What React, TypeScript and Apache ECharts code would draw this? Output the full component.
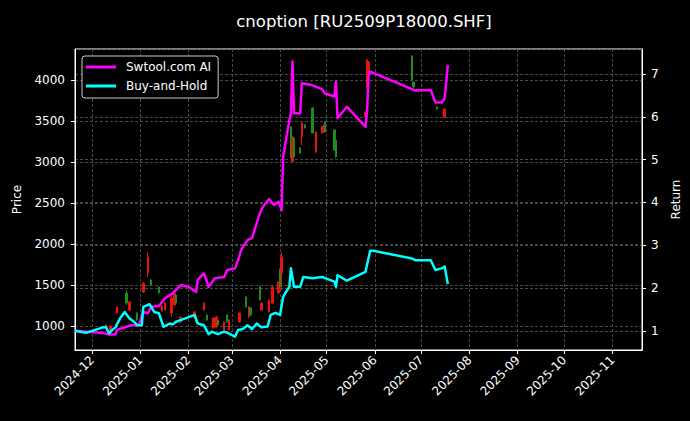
import React, { useEffect, useRef } from 'react';
import * as echarts from 'echarts';

const titleText = 'cnoption [RU2509P18000.SHF]';
const aiName = 'Swtool.com AI';
const bhName = 'Buy-and-Hold';

const aiDates = ['2024-11-20','2024-12-08','2024-12-12','2024-12-16','2024-12-17','2024-12-26','2024-12-31','2025-01-03','2025-01-06','2025-01-08','2025-01-13','2025-01-17','2025-01-22','2025-01-27','2025-02-01','2025-02-06','2025-02-07','2025-02-11','2025-02-14','2025-02-18','2025-02-24','2025-02-26','2025-03-03','2025-03-05','2025-03-07','2025-03-11','2025-03-14','2025-03-19','2025-03-21','2025-03-25','2025-03-28','2025-03-31','2025-04-02','2025-04-03','2025-04-07','2025-04-08','2025-04-09','2025-04-10','2025-04-14','2025-04-15','2025-04-21','2025-04-28','2025-04-30','2025-05-06','2025-05-07','2025-05-08','2025-05-14','2025-05-26','2025-05-27','2025-05-28','2025-05-29','2025-06-25','2025-06-27','2025-07-07','2025-07-10','2025-07-14','2025-07-16','2025-07-18'];
const aiValues = [1.00,0.95,0.91,0.91,1.02,1.13,1.13,1.44,1.41,1.56,1.58,1.76,1.88,2.07,2.03,1.91,2.19,2.34,2.03,2.23,2.26,2.42,2.46,2.65,2.89,3.12,3.17,3.75,3.90,4.08,3.94,4.02,3.82,5.07,5.93,6.09,7.30,6.09,6.09,6.79,6.75,6.65,6.55,6.48,6.83,5.97,6.24,5.77,6.13,6.98,7.06,6.65,6.62,6.63,6.34,6.34,6.44,7.22];

const bhDates = ['2024-11-20','2024-11-27','2024-12-08','2024-12-10','2024-12-12','2024-12-14','2024-12-16','2024-12-19','2024-12-22','2024-12-25','2024-12-28','2024-12-30','2025-01-02','2025-01-03','2025-01-07','2025-01-10','2025-01-13','2025-01-16','2025-01-20','2025-01-22','2025-01-24','2025-01-27','2025-02-05','2025-02-07','2025-02-11','2025-02-14','2025-02-16','2025-02-20','2025-02-24','2025-02-27','2025-03-03','2025-03-05','2025-03-08','2025-03-11','2025-03-14','2025-03-17','2025-03-20','2025-03-24','2025-03-26','2025-03-29','2025-04-01','2025-04-03','2025-04-07','2025-04-08','2025-04-10','2025-04-14','2025-04-16','2025-04-22','2025-04-28','2025-04-30','2025-05-06','2025-05-07','2025-05-08','2025-05-14','2025-05-26','2025-05-29','2025-05-31','2025-06-25','2025-06-27','2025-07-07','2025-07-10','2025-07-14','2025-07-16','2025-07-18'];
const bhValues = [1.00,0.95,1.08,1.08,0.94,1.02,1.08,1.29,1.44,1.29,1.21,1.13,1.13,1.56,1.62,1.44,1.41,1.09,1.17,1.15,1.21,1.25,1.37,1.17,1.13,0.92,0.98,0.92,0.98,0.94,0.86,1.02,1.04,1.13,1.04,1.17,1.08,1.10,1.37,1.42,1.37,1.80,2.03,2.46,2.03,2.03,2.26,2.23,2.26,2.23,2.15,2.03,2.30,2.17,2.38,2.87,2.87,2.69,2.65,2.65,2.42,2.46,2.50,2.09];

const candleDates = ['2024-12-10','2024-12-13','2024-12-17','2024-12-23','2024-12-25','2024-12-30','2025-01-03','2025-01-06','2025-01-08','2025-01-13','2025-01-15','2025-01-17','2025-01-21','2025-01-23','2025-01-24','2025-01-27','2025-02-05','2025-02-06','2025-02-11','2025-02-13','2025-02-17','2025-02-19','2025-02-20','2025-02-24','2025-02-26','2025-02-27','2025-03-06','2025-03-10','2025-03-12','2025-03-13','2025-03-19','2025-03-20','2025-03-25','2025-03-27','2025-03-31','2025-04-01','2025-04-02','2025-04-08','2025-04-09','2025-04-10','2025-04-14','2025-04-15','2025-04-17','2025-04-22','2025-04-24','2025-04-28','2025-04-29','2025-04-30','2025-05-06','2025-05-07','2025-05-26','2025-05-27','2025-05-28','2025-06-25','2025-06-26','2025-07-11','2025-07-16'];
const candleOpen = [976,951,1159,1402,1195,1159,1415,1646,1561,1476,1183,1195,1159,1256,1378,1049,1098,1110,1195,1134,976,988,1073,951,1134,951,1049,1354,1110,1220,1476,1195,1171,1280,1402,1683,1646,3427,3004,3293,3171,3305,3451,3659,3122,3354,3366,3488,3390,3268,3549,3915,4085,4293,3976,3671,3549];
const candleClose = [1012,1000,1232,1280,1293,1073,1524,1841,1500,1402,1244,1280,1341,1402,1280,1110,1171,1049,1280,1073,1098,1110,1012,1049,1049,1073,1159,1232,1232,1134,1317,1280,1317,1476,1537,1476,1841,3061,3305,3061,3110,3476,3415,3354,3366,3427,3439,3366,3146,3061,3610,4244,4220,4000,3915,3646,3646];
const candleLow = [970,945,1150,1256,1185,1065,1405,1598,1495,1395,1175,1190,1110,1250,1275,1040,1090,1045,1190,1065,970,980,1005,945,1040,945,1040,1225,1100,1130,1310,1190,1165,1270,1395,1470,1439,3050,2995,3050,3100,3207,3410,3345,3115,3345,3360,3360,3140,3055,3540,3905,4075,3990,3905,3640,3540];
const candleHigh = [1020,1005,1240,1439,1300,1165,1530,1902,1570,1485,1250,1290,1378,1410,1385,1115,1180,1115,1290,1140,1105,1120,1080,1055,1140,1080,1165,1360,1240,1225,1485,1290,1325,1485,1545,1700,1902,3440,3320,3300,3180,3485,3460,3670,3375,3435,3445,3495,3400,3275,3620,4255,4230,4300,3985,3680,3655];

const FONT = 'DejaVu Sans';

export default function App() {
  const ref = useRef<HTMLDivElement>(null);
  useEffect(() => {
    document.body.style.margin = '0';
    document.body.style.background = '#000';
    const chart = echarts.init(ref.current!, null, { renderer: 'svg' });
    const gridLine = { show: true, lineStyle: { color: '#5a5a5a', type: [3, 2], width: 0.8 } };
    const option: any = {
      animation: false,
      backgroundColor: '#000',
      textStyle: { fontFamily: FONT },
      title: {
        text: titleText,
        left: 359,
        textAlign: 'center',
        top: 8,
        textStyle: { color: '#fff', fontSize: 16.5, fontWeight: 'normal', fontFamily: FONT },
      },
      legend: {
        data: [aiName, bhName],
        orient: 'vertical',
        left: 82,
        top: 56,
        padding: [5, 7, 6, 4],
        itemGap: 7,
        itemWidth: 30,
        itemHeight: 3,
        icon: 'rect',
        backgroundColor: '#000',
        borderColor: '#cccccc',
        borderWidth: 1,
        borderRadius: 3,
        textStyle: { color: '#fff', fontSize: 12, fontFamily: FONT, padding: [0, 0, 0, 5] },
      },
      grid: {
        left: 75, right: 48, top: 49, bottom: 71,
        show: true, borderColor: '#fff', borderWidth: 1, backgroundColor: '#000',
      },
      xAxis: {
        type: 'time',
        min: '2024-11-20',
        max: '2025-11-20',
        splitNumber: 12,
        axisLine: { show: true, lineStyle: { color: '#fff' } },
        axisTick: { show: true, length: 4, lineStyle: { color: '#fff' } },
        axisLabel: {
          color: '#fff', fontSize: 12, fontFamily: FONT, rotate: 45, margin: 8,
          formatter: (v: number) => echarts.time.format(v, '{yyyy}-{MM}', false),
          hideOverlap: false,
        },
        splitLine: gridLine,
      },
      yAxis: [
        {
          type: 'value',
          name: 'Price',
          nameLocation: 'middle',
          nameGap: 52,
          nameTextStyle: { color: '#fff', fontSize: 12, fontFamily: FONT },
          min: 707,
          max: 4378,
          splitNumber: 7,
          axisLine: { show: true, lineStyle: { color: '#fff' } },
          axisTick: { show: true, length: 4, lineStyle: { color: '#fff' } },
          axisLabel: {
            color: '#fff', fontSize: 12, fontFamily: FONT, margin: 10,
            showMinLabel: false, showMaxLabel: false,
            formatter: (v: number) => String(v),
          },
          splitLine: gridLine,
        },
        {
          type: 'value',
          name: 'Return',
          nameLocation: 'middle',
          nameGap: 24,
          nameRotate: 90,
          nameTextStyle: { color: '#fff', fontSize: 12, fontFamily: FONT },
          min: 0.55,
          max: 7.59,
          splitNumber: 7,
          position: 'right',
          axisLine: { show: true, lineStyle: { color: '#fff' } },
          axisTick: { show: true, length: 4, lineStyle: { color: '#fff' } },
          axisLabel: {
            color: '#fff', fontSize: 12, fontFamily: FONT, margin: 9,
            showMinLabel: false, showMaxLabel: false,
            formatter: (v: number) => String(v),
          },
          splitLine: gridLine,
        },
      ],
      series: [
        {
          type: 'candlestick',
          name: 'Price',
          xAxisIndex: 0,
          yAxisIndex: 0,
          barWidth: 2,
          encode: { x: 0, y: [1, 2, 3, 4] },
          itemStyle: {
            color: '#e5150e', color0: '#1f8c1f',
            borderColor: '#e5150e', borderColor0: '#1f8c1f', borderWidth: 1,
          },
          data: candleDates.map((d, i) => [d, candleOpen[i], candleClose[i], candleLow[i], candleHigh[i]]),
        },
        {
          type: 'line',
          name: aiName,
          yAxisIndex: 1,
          symbol: 'none',
          lineStyle: { color: '#ff00ff', width: 2.5, join: 'round' },
          itemStyle: { color: '#ff00ff' },
          data: aiDates.map((d, i) => [d, aiValues[i]]),
        },
        {
          type: 'line',
          name: bhName,
          yAxisIndex: 1,
          symbol: 'none',
          lineStyle: { color: '#00ffff', width: 2.5, join: 'round' },
          itemStyle: { color: '#00ffff' },
          data: bhDates.map((d, i) => [d, bhValues[i]]),
        },
      ],
    };
    chart.setOption(option);
    return () => chart.dispose();
  }, []);
  return <div ref={ref} style={{ width: 690, height: 421, background: '#000' }} />;
}
